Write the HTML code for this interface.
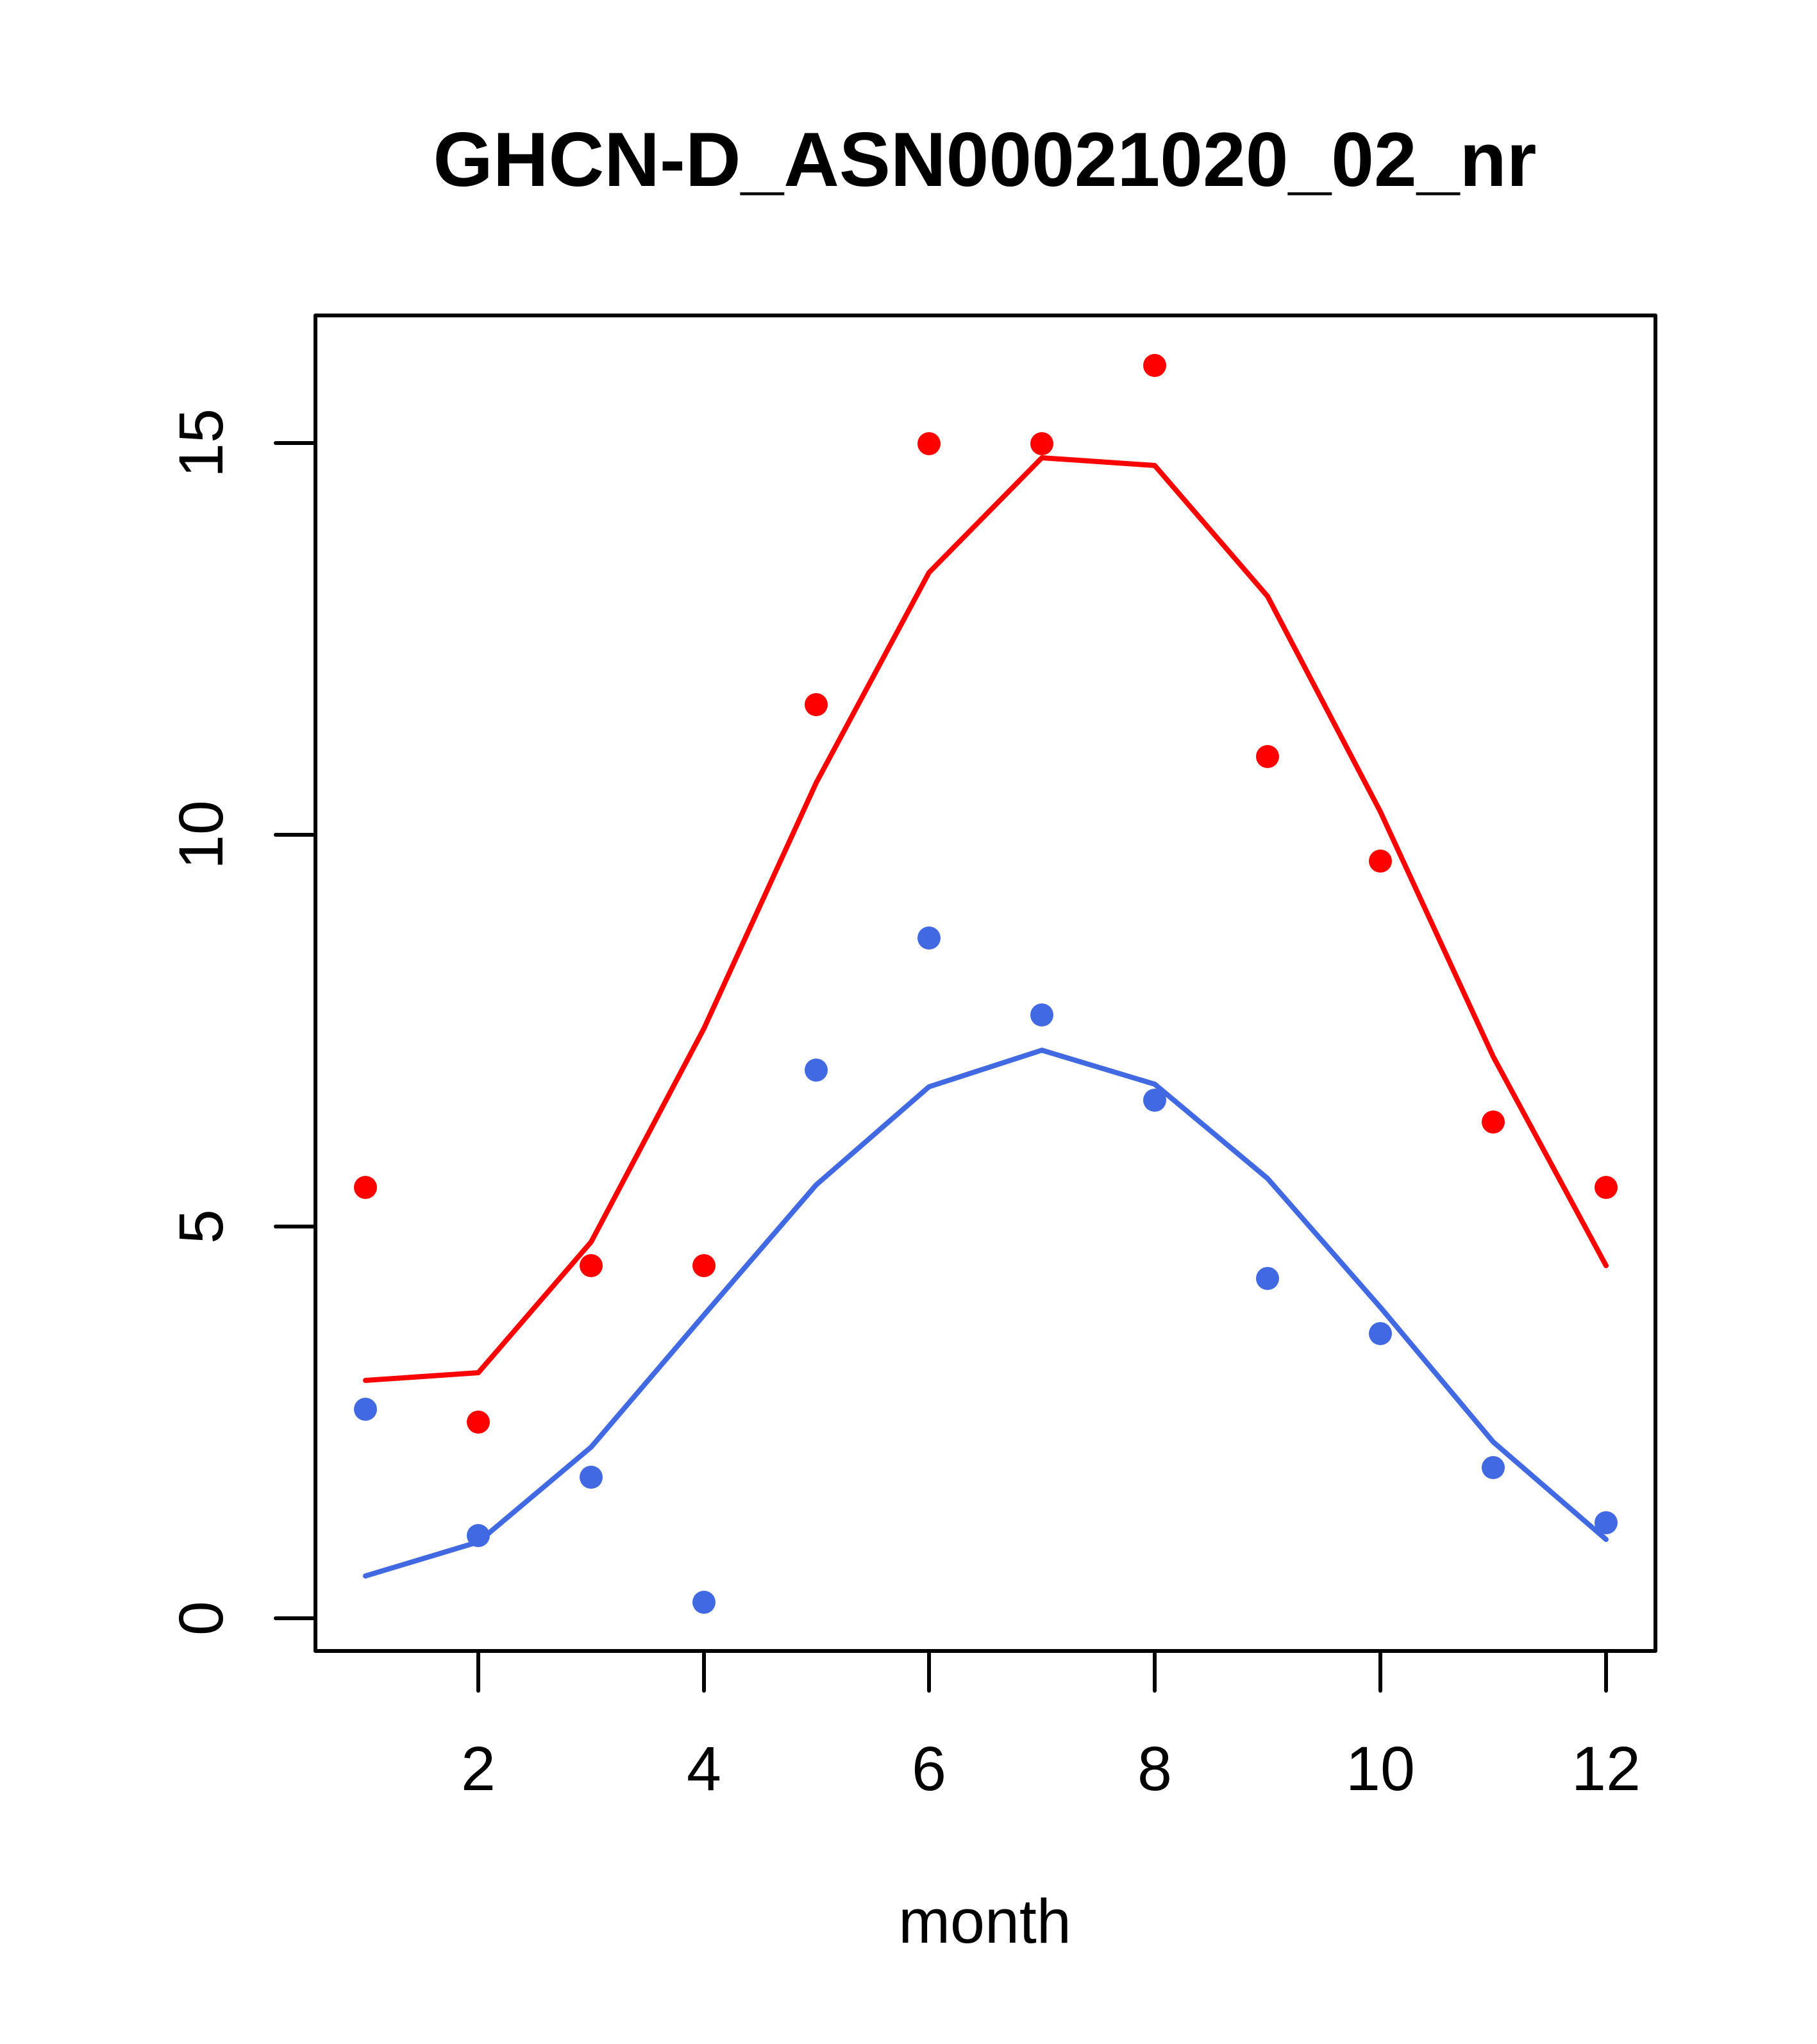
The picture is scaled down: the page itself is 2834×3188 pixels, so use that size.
<!DOCTYPE html>
<html><head><style>html,body{margin:0;padding:0;background:#fff}svg{display:block}</style></head>
<body>
<svg xmlns="http://www.w3.org/2000/svg" width="2834" height="3188" viewBox="0 0 2834 3188">
<rect width="2834" height="3188" fill="#fff"/>
<text x="1536" y="290" font-family="Liberation Sans, sans-serif" font-weight="bold" font-size="120" text-anchor="middle">GHCN-D_ASN00021020_02_nr</text>
<rect x="492" y="492" width="2090" height="2083" fill="none" stroke="#000" stroke-width="6" stroke-linejoin="round"/>
<g stroke="#000" stroke-width="6" stroke-linecap="round">
<line x1="746" y1="2575" x2="746" y2="2637"/>
<line x1="1098" y1="2575" x2="1098" y2="2637"/>
<line x1="1449" y1="2575" x2="1449" y2="2637"/>
<line x1="1801" y1="2575" x2="1801" y2="2637"/>
<line x1="2153" y1="2575" x2="2153" y2="2637"/>
<line x1="2505" y1="2575" x2="2505" y2="2637"/>
<line x1="430" y1="2524" x2="492" y2="2524"/>
<line x1="430" y1="1913" x2="492" y2="1913"/>
<line x1="430" y1="1302" x2="492" y2="1302"/>
<line x1="430" y1="691" x2="492" y2="691"/>
</g>
<g font-family="Liberation Sans, sans-serif" font-size="97" text-anchor="middle">
<text x="746" y="2792">2</text><text x="1098" y="2792">4</text><text x="1449" y="2792">6</text>
<text x="1801" y="2792">8</text><text x="2153" y="2792">10</text><text x="2505" y="2792">12</text>
<text x="1536" y="3030">month</text>
<text transform="translate(347,2524) rotate(-90)">0</text>
<text transform="translate(347,1913) rotate(-90)">5</text>
<text transform="translate(347,1302) rotate(-90)">10</text>
<text transform="translate(347,691) rotate(-90)">15</text>
</g>
<polyline fill="none" stroke="#ff0000" stroke-width="8" stroke-linejoin="round" stroke-linecap="round" points="570,2153 746,2141 922,1937 1098,1604 1273,1221 1449,893 1625,714 1801,726 1977,930 2153,1266 2329,1648 2505,1974"/>
<polyline fill="none" stroke="#4169e1" stroke-width="8" stroke-linejoin="round" stroke-linecap="round" points="570,2458 746,2405 922,2257 1098,2051 1273,1848 1449,1695 1625,1638 1801,1691 1977,1838 2153,2039 2329,2249 2505,2401"/>
<g fill="#ff0000">
<circle cx="570" cy="1852" r="18"/><circle cx="746" cy="2218" r="18"/><circle cx="922" cy="1974" r="18"/>
<circle cx="1098" cy="1974" r="18"/><circle cx="1273" cy="1099" r="18"/><circle cx="1449" cy="692" r="18"/>
<circle cx="1625" cy="692" r="18"/><circle cx="1801" cy="570" r="18"/><circle cx="1977" cy="1180" r="18"/>
<circle cx="2153" cy="1343" r="18"/><circle cx="2329" cy="1750" r="18"/><circle cx="2505" cy="1852" r="18"/>
</g>
<g fill="#4169e1">
<circle cx="570" cy="2198" r="18"/><circle cx="746" cy="2395" r="18"/><circle cx="922" cy="2304" r="18"/>
<circle cx="1098" cy="2499" r="18"/><circle cx="1273" cy="1669" r="18"/><circle cx="1449" cy="1463" r="18"/>
<circle cx="1625" cy="1583" r="18"/><circle cx="1801" cy="1716" r="18"/><circle cx="1977" cy="1994" r="18"/>
<circle cx="2153" cy="2080" r="18"/><circle cx="2329" cy="2289" r="18"/><circle cx="2505" cy="2375" r="18"/>
</g>
</svg>
</body></html>
